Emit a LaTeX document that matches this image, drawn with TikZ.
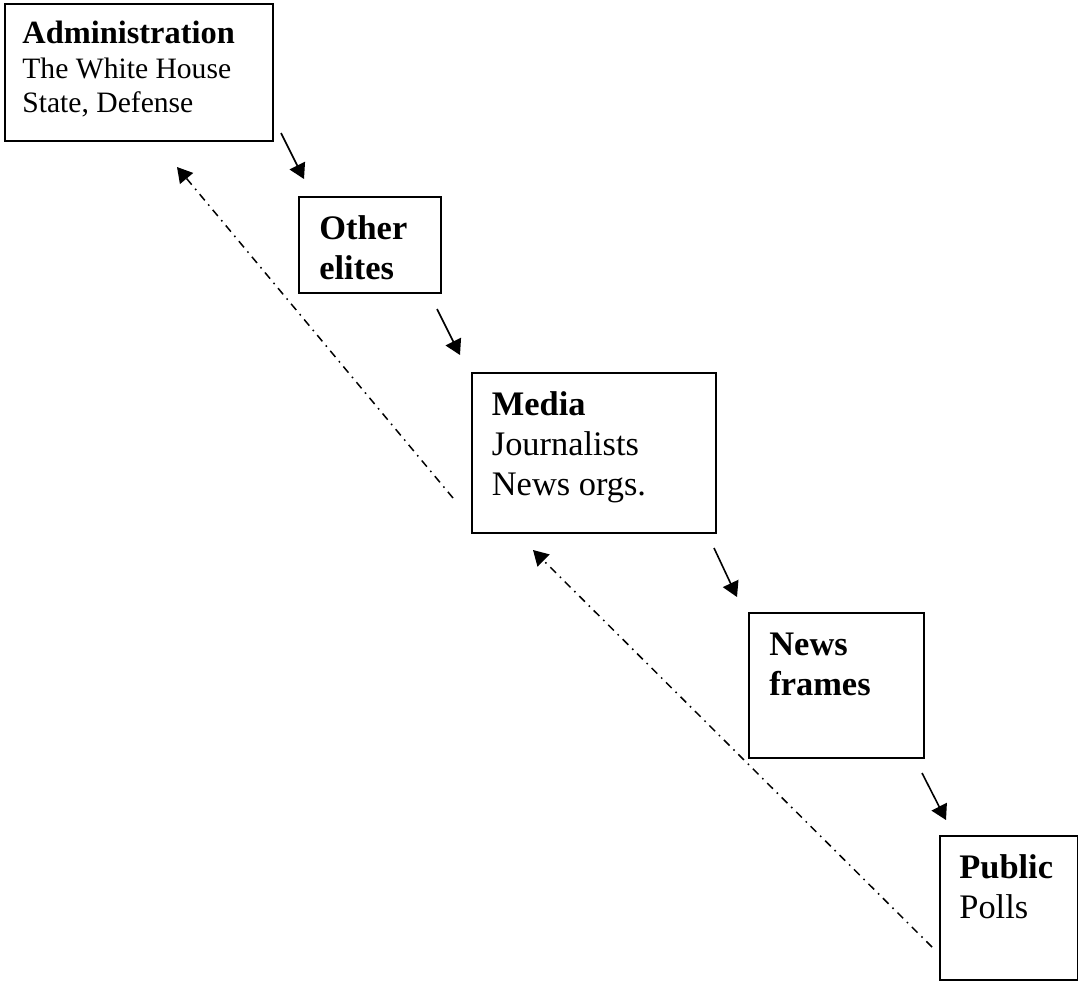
\documentclass[tikz,border=0pt]{standalone}
\usepackage{fontspec}
\setmainfont{Liberation Serif}
\usetikzlibrary{arrows.meta}
\tikzset{
  box/.style={draw, line width=1pt, anchor=north west, inner sep=0pt, rectangle},
  txt/.style={anchor=north west, inner sep=0pt, align=left, font=\fontsize{17.2}{20}\selectfont},
  flow/.style={line width=0.8pt, -{Triangle[length=7.5pt,width=8.5pt]}},
  feedback/.style={line width=0.75pt, dash pattern=on 4pt off 2.7pt on 0.8pt off 2.7pt, -{Triangle[length=7.5pt,width=8.5pt]}}
}
\begin{document}
\begin{tikzpicture}[x=0.5pt,y=-0.5pt]
\useasboundingbox (0,0) rectangle (1078,981);
% boxes
\node[box, minimum width=134pt, minimum height=68.5pt] (adm) at (4,3) {};
\node[box, minimum width=71pt, minimum height=48pt] (oth) at (298,196) {};
\node[box, minimum width=122pt, minimum height=80pt] (med) at (471,372) {};
\node[box, minimum width=87.5pt, minimum height=72.5pt] (nf) at (748,612) {};
\node[box, minimum width=69pt, minimum height=72pt] (pub) at (939,835) {};
% texts
\node[txt, font=\fontsize{14.8}{17.25}\selectfont] (admt) at (22,20.8) {{\fontsize{16.2}{17.25}\selectfont\textbf{Administration}}\\The White House\\State, Defense};
\node[txt] (otht) at (319,215) {\textbf{Other}\\\textbf{elites}};
\node[txt] (medt) at (491.5,391) {\textbf{Media}\\Journalists\\News orgs.};
\node[txt] (nft) at (769,632.5) {\textbf{News}\\\textbf{frames}};
\node[txt] (pubt) at (959,854.5) {\textbf{Public}\\Polls};
% connector end points
\coordinate (a1s) at (281,133); \coordinate (a1e) at (304,179);
\coordinate (a2s) at (437,309); \coordinate (a2e) at (460,355);
\coordinate (a3s) at (714,548); \coordinate (a3e) at (737,597);
\coordinate (a4s) at (922,773); \coordinate (a4e) at (946,820);
\coordinate (d1s) at (453,498); \coordinate (d1e) at (177,167);
\coordinate (d2s) at (932,947); \coordinate (d2e) at (533,550);
\draw[flow] (a1s) -- (a1e);
\draw[flow] (a2s) -- (a2e);
\draw[flow] (a3s) -- (a3e);
\draw[flow] (a4s) -- (a4e);
\draw[feedback] (d1s) -- (d1e);
\draw[feedback] (d2s) -- (d2e);
\end{tikzpicture}
\end{document}
